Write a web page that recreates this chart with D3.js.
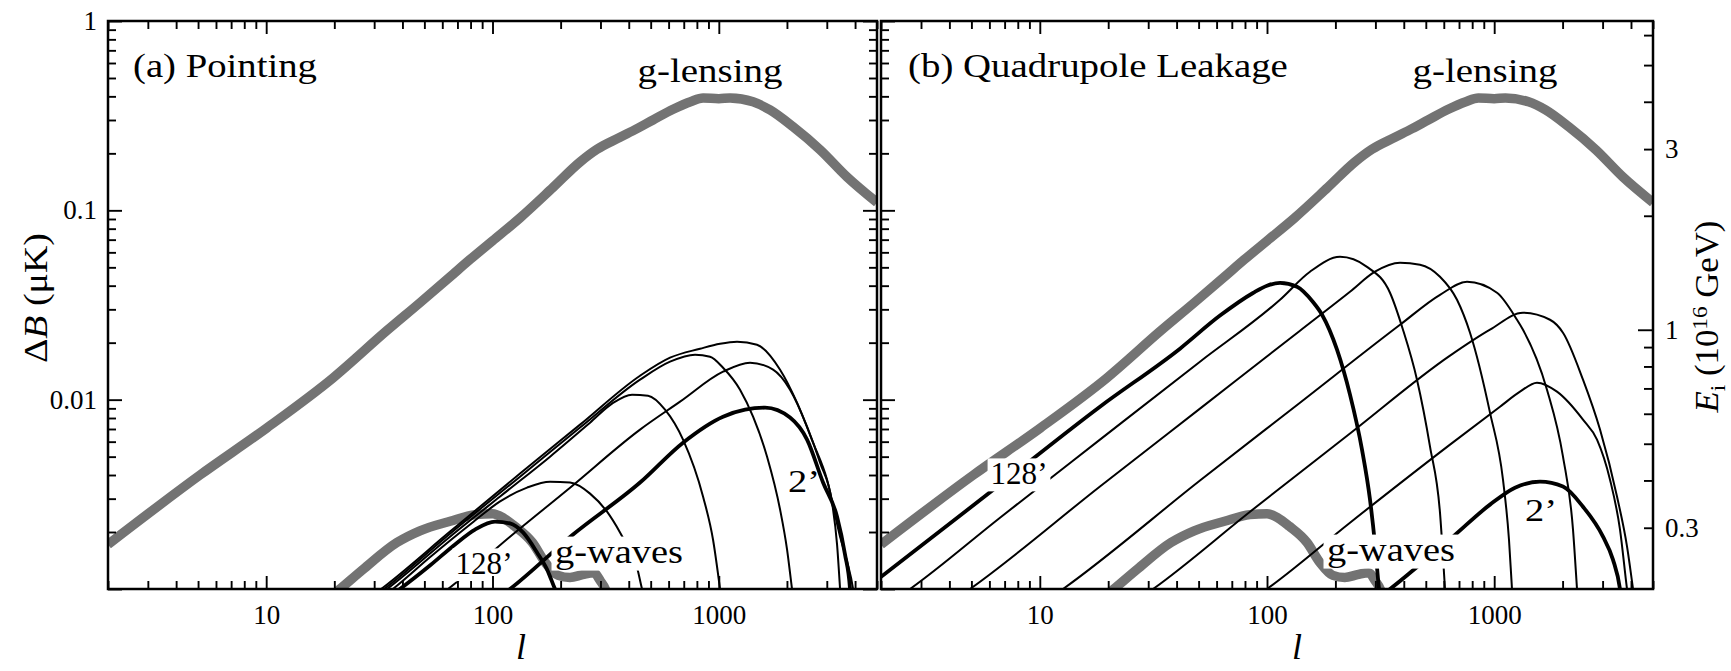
<!DOCTYPE html>
<html><head><meta charset="utf-8">
<script src="https://cdn.jsdelivr.net/npm/d3@7/dist/d3.min.js"></script>
<style>
body{margin:0;background:#fff;}
svg{display:block;}
text{font-family:"Liberation Serif","Times New Roman",serif;fill:#000;}
</style>
</head><body>
<svg id="chart" width="1731" height="671"></svg>
<script>
// ---------------- data ----------------
const lDomain = [2, 5000];
const bDomain = [0.001, 1];
const beams = ["128’", "64’", "32’", "16’", "8’", "4’", "2’"];
const xTickMajor = [10, 100, 1000];
const yTickMajor = [0.001, 0.01, 0.1, 1];
const yTickLabels = ["", "0.01", "0.1", "1"];
const eRefB = 0.0234;          // ΔB that corresponds to E_i = 1 (10^16 GeV)
const eTickLabels = [0.3, 1, 3];

// gravitational lensing B-modes [l, ΔB]
const lensing = [[2,0.00172],[5.1,0.0040],[10.08,0.0071],[19.7,0.0130],[34.2,0.0232],[47.8,0.0325],[64.9,0.0445],[79.6,0.055],[100,0.069],[132,0.091],[185,0.132],[243.7,0.18],[289.6,0.21],[366,0.243],[435,0.27],[512,0.30],[628,0.342],[750,0.375],[852,0.392],[1000,0.389],[1121,0.392],[1416,0.374],[1683,0.339],[2129,0.276],[2800,0.209],[3687,0.150],[5000,0.110]];
// gravitational-wave B-modes [l, ΔB]
const gwaves = [[18,0.00085],[21.2,0.001],[26.8,0.00127],[37.8,0.00176],[47.8,0.00203],[65,0.00228],[84,0.00247],[100,0.0025],[112,0.00237],[125,0.00215],[150,0.00176],[171,0.00138],[195,0.00118],[220,0.00115],[250,0.00119],[280,0.00122],[300,0.0011],[315,0.001],[325,0.0009]];

// (a) pointing contamination, one curve per beam [l, ΔB]
const point128 = [[31.8,0.00084],[39.0,0.001],[52.9,0.00133],[68.3,0.00172],[83.7,0.00206],[102.6,0.00227],[119.5,0.00222],[136.4,0.00199],[157.3,0.00156],[174.1,0.00127],[188.9,0.001],[202.9,0.00083]];
const point64 = [[30.3,0.00085],[36.3,0.001],[52.9,0.00147],[79.6,0.00219],[108,0.0029],[142.1,0.00343],[179.6,0.00369],[220.1,0.00365],[269.8,0.00319],[320.7,0.00256],[366,0.00199],[405.3,0.00158],[435.2,0.0013],[457.9,0.001],[472,0.00088]];
const point32 = [[28.8,0.00086],[34.2,0.001],[64.9,0.00189],[108,0.00308],[179.6,0.005],[269.8,0.00756],[337.5,0.00953],[413.6,0.01063],[486.8,0.0105],[578.6,0.00886],[695,0.00615],[851.6,0.00308],[943,0.00182],[1012.5,0.001],[1033,0.00083]];
const point16 = [[27.9,0.00086],[33.2,0.001],[64.9,0.00196],[132.3,0.00392],[243.7,0.00712],[448.7,0.01275],[608.8,0.01587],[785.2,0.01728],[914.6,0.01686],[1044,0.01475],[1241,0.01129],[1417,0.00813],[1634,0.005],[1865,0.00263],[2002,0.00162],[2106,0.001],[2150,0.00083]];
const point8 = [[27.1,0.00086],[32.2,0.001],[64.9,0.00201],[132.3,0.00407],[243.7,0.00738],[448.7,0.01338],[608.8,0.01666],[826.4,0.01858],[1012.5,0.01974],[1204,0.02023],[1475,0.0195],[1865,0.0144],[2216,0.00964],[2608,0.00593],[3008,0.00378],[3434,0.00189],[3686,0.0014],[3919,0.001],[4000,0.00083]];
const point4 = [[52.9,0.00085],[63.6,0.001],[119.5,0.00189],[220.1,0.00343],[448.7,0.00695],[674.2,0.00976],[1044,0.01405],[1374,0.01568],[1737,0.0144],[2064,0.01129],[2454,0.0072],[2801,0.00465],[3165,0.00286],[3330,0.00172],[3434,0.001],[3468,0.00083]];
const point2 = [[99.5,0.00085],[119.5,0.001],[226.9,0.00194],[448.7,0.00365],[695,0.00593],[1044,0.00813],[1306,0.00886],[1601,0.00907],[2064,0.00804],[2454,0.00615],[2888,0.00365],[3330,0.00241],[3612,0.00152],[3800,0.001],[3838,0.00083]];

// (b) quadrupole leakage contamination, one curve per beam [l, ΔB]
const leak128 = [[1.8,0.00105],[6.68,0.00356],[18.4,0.00918],[41.4,0.0186],[62.1,0.0278],[86.8,0.0366],[100,0.0400],[114.1,0.0414],[135.5,0.0395],[159.4,0.0328],[174.7,0.0281],[203.3,0.01836],[231.9,0.01063],[261.9,0.00545],[284,0.00297],[298.8,0.00172],[311.2,0.001],[317.6,0.00083]];
const leak64 = [[2.305,0.00088],[2.684,0.001],[6.68,0.00238],[18.4,0.00615],[50.7,0.01587],[114.1,0.0337],[154.6,0.0474],[209.6,0.0568],[275.5,0.0503],[347.8,0.0367],[396.8,0.02341],[457.3,0.01275],[521.8,0.00565],[577.3,0.00253],[607.4,0.001],[613.5,0.00083]];
const leak32 = [[4.234,0.00088],[4.93,0.001],[18.4,0.00348],[50.7,0.00897],[139.7,0.02312],[231.9,0.03714],[298.8,0.0474],[385,0.05284],[471.5,0.0516],[577.3,0.04458],[686,0.0337],[782.6,0.02257],[958.3,0.00854],[1093.2,0.00378],[1161.8,0.00182],[1197.6,0.001],[1209.8,0.00083]];
const leak16 = [[10.87,0.00088],[12.65,0.001],[50.7,0.00374],[139.7,0.00964],[385,0.02487],[577.3,0.0358],[759.2,0.04195],[1028.7,0.0367],[1259.9,0.02643],[1338.9,0.02341],[1707.5,0.01129],[2008.1,0.005],[2222.6,0.00206],[2314.6,0.001],[2337.9,0.00083]];
const leak8 = [[27.05,0.00088],[31.5,0.001],[84.2,0.00256],[231.9,0.00662],[639,0.01707],[958.3,0.02341],[1338.9,0.02878],[1760,0.02643],[2008.1,0.02257],[2459.5,0.01275],[2922.6,0.00695],[3471.6,0.00308],[3841.9,0.00168],[4082.9,0.001],[4166,0.00083]];
const leak4 = [[85.9,0.00088],[100,0.001],[231.9,0.00224],[639,0.00579],[1060.5,0.00918],[1299,0.01102],[1543,0.0123],[1889.6,0.01102],[2459.5,0.00784],[2835,0.00615],[3233.9,0.00378],[3578.9,0.00206],[3841.9,0.001],[3921,0.00083]];
const leak2 = [[298.8,0.00088],[347.8,0.001],[471.5,0.001347],[658.7,0.00189],[958.3,0.00279],[1234.6,0.00343],[1590.7,0.00369],[2008.1,0.00348],[2459.5,0.00272],[3012.7,0.00189],[3332,0.00143],[3578.9,0.001],[3650,0.00083]];

// ---------------- drawing ----------------
const W = 1731, H = 671;
const yTop = 21, yBot = 589;
const GRAY = "#737373";
const svg = d3.select("#chart");
svg.append("rect").attr("width", W).attr("height", H).attr("fill", "#fff");
const defs = svg.append("defs");

const y = d3.scaleLog().domain(bDomain).range([yBot, yTop]);
const eScale = d3.scaleLog()
  .domain([Math.sqrt(bDomain[0] / eRefB), Math.sqrt(bDomain[1] / eRefB)])
  .range([yBot, yTop]);

// label helper: o.w = wanted printed width (glyphs are stretched horizontally to it)
function addLabel(parent, o) {
  const size = o.size || 33;
  const g = parent.append("g");
  const inner = g.append("g");
  const t = inner.append("text").attr("text-anchor", "start").attr("font-size", size);
  if (o.parts) {
    o.parts.forEach(p => {
      const ts = t.append("tspan").text(p.t);
      if (p.italic) ts.attr("font-style", "italic");
      if (p.size) ts.attr("font-size", p.size);
      if (p.dy) ts.attr("dy", p.dy);
    });
  } else t.text(o.text);
  if (o.italic) t.attr("font-style", "italic");
  const b = t.node().getBBox();
  const sx = o.w ? o.w / b.width : 1;
  const anchor = o.anchor || "start";
  const shift = anchor === "middle" ? -(b.x + b.width / 2) : anchor === "end" ? -(b.x + b.width) : -b.x;
  inner.attr("transform", `scale(${sx},1) translate(${shift},0)`);
  g.attr("transform", `translate(${o.x},${o.y}) rotate(${o.rotate || 0})`);
  if (o.box) {
    inner.insert("rect", "text").attr("x", b.x - 3).attr("y", -0.8 * size)
      .attr("width", b.width + 6).attr("height", 1.03 * size).attr("fill", "#fff");
  }
  return g;
}

const panels = [
  { id: "a", x0: 108, x1: 877, curves: [point128, point64, point32, point16, point8, point4, point2],
    title: "(a) Pointing", titleX: 133, titleW: 184, lensX: 710,
    lab128: [484, 574], labGW: [619, 563], lab2: [788, 492], lX: 521, leftLabels: true },
  { id: "b", x0: 881, x1: 1653, curves: [leak128, leak64, leak32, leak16, leak8, leak4, leak2],
    title: "(b) Quadrupole Leakage", titleX: 908, titleW: 380, lensX: 1485,
    lab128: [1019, 484], labGW: [1391, 561], lab2: [1525, 521], lX: 1297, leftLabels: false }
];

panels.forEach(p => {
  const x = d3.scaleLog().domain(lDomain).range([p.x0, p.x1]);
  const clipId = "clip-" + p.id;
  defs.append("clipPath").attr("id", clipId).append("rect")
    .attr("x", p.x0).attr("y", yTop).attr("width", p.x1 - p.x0).attr("height", yBot - yTop);
  const g = svg.append("g");
  const plot = g.append("g").attr("clip-path", `url(#${clipId})`);
  const line = d3.line().x(d => x(d[0])).y(d => y(d[1])).curve(d3.curveMonotoneX);

  plot.append("path").datum(lensing).attr("d", line).attr("fill", "none")
    .attr("stroke", GRAY).attr("stroke-width", 9.5).attr("stroke-linejoin", "round");
  plot.append("path").datum(gwaves).attr("d", line).attr("fill", "none")
    .attr("stroke", GRAY).attr("stroke-width", 9.5).attr("stroke-linejoin", "round");
  p.curves.forEach((c, i) => {
    const thick = (i === 0 || i === beams.length - 1);
    plot.append("path").datum(c).attr("d", line).attr("fill", "none")
      .attr("stroke", "#000").attr("stroke-width", thick ? 3.8 : 2)
      .attr("stroke-linejoin", "round");
  });

  // annotations
  addLabel(g, { x: p.titleX, y: 77, text: p.title, w: p.titleW });
  addLabel(g, { x: p.lensX, y: 82, text: "g-lensing", w: 145, anchor: "middle" });
  addLabel(g, { x: p.lab128[0], y: p.lab128[1], text: beams[0], size: 32, w: 57, anchor: "middle", box: true });
  addLabel(g, { x: p.labGW[0], y: p.labGW[1], text: "g-waves", w: 128, anchor: "middle", box: true });
  addLabel(g, { x: p.lab2[0], y: p.lab2[1], text: beams[beams.length - 1], size: 32, w: 32 });

  // axes (ticks inside)
  const xMinor = x.ticks().filter(v => !xTickMajor.includes(v));
  const yMinor = y.ticks().filter(v => !yTickMajor.includes(v));
  const styleAxis = sel => {
    sel.select(".domain").remove();
    sel.selectAll(".tick line").attr("stroke", "#000").attr("stroke-width", 1.9);
    sel.selectAll(".tick text").attr("font-family", "Liberation Serif").attr("font-size", 27).attr("fill", "#000");
    sel.attr("font-family", null).attr("font-size", null);
  };
  g.append("g").attr("transform", `translate(0,${yBot})`)
    .call(d3.axisBottom(x).tickValues(xMinor).tickSize(-8).tickFormat("")).call(styleAxis);
  g.append("g").attr("transform", `translate(0,${yBot})`)
    .call(d3.axisBottom(x).tickValues(xTickMajor).tickSize(-13).tickPadding(16).tickFormat(d3.format("d"))).call(styleAxis);
  g.append("g").attr("transform", `translate(0,${yTop})`)
    .call(d3.axisTop(x).tickValues(xMinor).tickSize(-8).tickFormat("")).call(styleAxis);
  g.append("g").attr("transform", `translate(0,${yTop})`)
    .call(d3.axisTop(x).tickValues(xTickMajor).tickSize(-13).tickFormat("")).call(styleAxis);

  g.append("g").attr("transform", `translate(${p.x0},0)`)
    .call(d3.axisLeft(y).tickValues(yMinor).tickSize(-8).tickFormat("")).call(styleAxis);
  g.append("g").attr("transform", `translate(${p.x0},0)`)
    .call(d3.axisLeft(y).tickValues(yTickMajor).tickSize(-14).tickPadding(11)
      .tickFormat((d, i) => p.leftLabels ? yTickLabels[i] : "")).call(styleAxis);

  if (p.id === "a") {
    g.append("g").attr("transform", `translate(${p.x1},0)`)
      .call(d3.axisRight(y).tickValues(yMinor).tickSize(-8).tickFormat("")).call(styleAxis);
    g.append("g").attr("transform", `translate(${p.x1},0)`)
      .call(d3.axisRight(y).tickValues(yTickMajor).tickSize(-14).tickFormat("")).call(styleAxis);
  } else {
    const eTicks = eScale.ticks();
    const eMinor = eTicks.filter(v => Math.abs(v - 1) > 1e-9);
    g.append("g").attr("transform", `translate(${p.x1},0)`)
      .call(d3.axisRight(eScale).tickValues(eMinor).tickSize(-9).tickPadding(12)
        .tickFormat(d => eTickLabels.some(v => Math.abs(v - d) < 1e-9) ? String(d) : "")).call(styleAxis);
    g.append("g").attr("transform", `translate(${p.x1},0)`)
      .call(d3.axisRight(eScale).tickValues([1]).tickSize(-15).tickPadding(12)
        .tickFormat(d => String(d))).call(styleAxis);
  }

  // frame
  g.append("rect").attr("x", p.x0).attr("y", yTop).attr("width", p.x1 - p.x0).attr("height", yBot - yTop)
    .attr("fill", "none").attr("stroke", "#000").attr("stroke-width", 2.5);

  // x axis title
  addLabel(g, { x: p.lX, y: 659, text: "l", size: 36, italic: true, anchor: "middle" });
});

// y axis titles
addLabel(svg, { x: 47, y: 298, rotate: -90, w: 130, anchor: "middle",
  parts: [{ t: "Δ" }, { t: "B", italic: true }, { t: " (μK)" }] });
addLabel(svg, { x: 1718, y: 317, rotate: -90, w: 193, anchor: "middle",
  parts: [{ t: "E", italic: true }, { t: "i", size: 22, dy: 7 }, { t: " (10", dy: -7 },
          { t: "16", size: 22, dy: -11 }, { t: " GeV)", dy: 11 }] });
</script>
</body></html>
